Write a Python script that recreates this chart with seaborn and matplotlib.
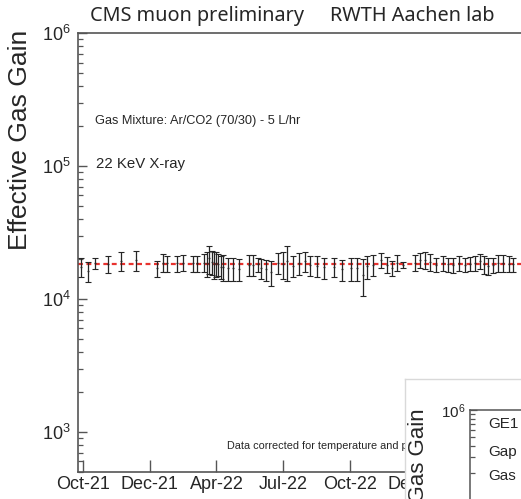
import numpy as np
import pandas as pd
import matplotlib
matplotlib.use("Agg")
import matplotlib.pyplot as plt
import seaborn as sns
from matplotlib.ticker import LogLocator, NullFormatter, FixedLocator

# Measurement time, in units of the labelled date ticks
time_pos = [-0.03, 0.07, 0.18, 0.37, 0.57, 0.79, 1.11, 1.20, 1.26, 1.41, 1.50, 1.65,
            1.71, 1.81, 1.86, 1.89, 1.93, 1.96, 1.99, 2.02, 2.07, 2.10, 2.17, 2.25,
            2.34, 2.49, 2.55, 2.62, 2.67, 2.74, 2.82, 2.92, 3.00, 3.06, 3.15, 3.24,
            3.33, 3.40, 3.51, 3.61, 3.76, 3.88, 4.02, 4.11, 4.20, 4.26, 4.35, 4.47,
            4.56, 4.63, 4.71, 4.80, 4.98, 5.05, 5.13, 5.20, 5.29, 5.40, 5.47, 5.55,
            5.64, 5.73, 5.80, 5.88, 5.95, 6.01, 6.07, 6.15, 6.22, 6.30, 6.39, 6.45]

# Effective gas gain and its uncertainty
gain = [17400, 16200, 18500, 18300, 19400, 19500, 17000, 18800, 18500, 18500, 18800, 18500,
        18500, 18800, 18600, 20200, 19000, 18300, 18500, 18300, 17500, 17500, 17100, 17000,
        16800, 18100, 18100, 18200, 17000, 16700, 15900, 18700, 18300, 19300, 17800, 18600,
        19200, 18000, 17800, 17300, 17400, 16700, 17000, 17100, 15200, 17600, 18100, 19500,
        18100, 17100, 18800, 18000, 18800, 19500, 19600, 19000, 18100, 18600, 18200, 17900,
        18700, 18100, 18400, 18600, 19200, 18200, 17800, 17900, 18600, 18600, 18400, 18200]
gain_err = [2800, 2800, 1700, 2700, 3100, 3300, 2400, 2800, 2600, 2500, 2500, 2500,
            2500, 2900, 4000, 4800, 3900, 4200, 3900, 3400, 3400, 3800, 3400, 3300,
            3100, 3200, 3200, 2300, 2900, 3000, 3400, 3300, 4200, 5700, 3200, 3500,
            3300, 3100, 3200, 3200, 2800, 3000, 3300, 3400, 4700, 3500, 3200, 2500,
            2500, 2200, 2500, 900, 2500, 2500, 2800, 2700, 2100, 2300, 2300, 2300,
            2400, 2200, 2200, 2300, 2500, 2800, 2700, 2300, 2700, 2700, 2500, 2300]

mean_gain = 18200

date_ticks = [0, 1, 2, 3, 4, 5]
date_labels = ["Oct-21", "Dec-21", "Apr-22", "Jul-22", "Oct-22", "Dec-22"]

df = pd.DataFrame({"t": time_pos, "gain": gain, "err": gain_err})

sns.set_style("ticks")
plt.rcParams["font.family"] = ["Liberation Sans", "DejaVu Sans"]
plt.rcParams["mathtext.fontset"] = "custom"
plt.rcParams["mathtext.rm"] = "Liberation Sans"
plt.rcParams["mathtext.it"] = "Liberation Sans:italic"

W, H = 521, 499
fig = plt.figure(figsize=(W / 100, H / 100), dpi=100)


def box(x0, y0, x1, y1):
    # pixel box (top-left origin) -> figure fraction rectangle
    return [x0 / W, 1 - y1 / H, (x1 - x0) / W, (y1 - y0) / H]


frame_col = "#555555"

ax = fig.add_axes(box(78, 33, 550, 472))
ax.set_yscale("log")
ax.set_ylim(500, 1e6)
ax.set_xlim(-0.075, 7.0)

ax.axhline(mean_gain, color="#e8322e", lw=1.6, ls=(0, (2.2, 1.6)), zorder=2)
ax.errorbar(df["t"], df["gain"], yerr=df["err"], fmt="none", ecolor="#262626",
            elinewidth=0.9, capsize=2.2, capthick=0.8, zorder=3)
sns.scatterplot(data=df, x="t", y="gain", ax=ax, s=2, color="#262626",
                linewidth=0, zorder=4, legend=False)

ax.set_xlabel("")
ax.set_ylabel("")
ax.xaxis.set_major_locator(FixedLocator(date_ticks))
ax.set_xticklabels(date_labels)
ax.yaxis.set_major_locator(LogLocator(base=10, numticks=10))
ax.yaxis.set_minor_locator(LogLocator(base=10, subs=np.arange(2, 10), numticks=20))
ax.yaxis.set_minor_formatter(NullFormatter())

ax.tick_params(axis="x", which="major", direction="in", length=9, width=1.0,
               color=frame_col, labelsize=13, pad=3)
ax.tick_params(axis="y", which="major", direction="in", length=6.5, width=1.0,
               color=frame_col, labelsize=13, pad=5)
ax.tick_params(axis="y", which="minor", direction="in", length=3.8, width=0.9,
               color=frame_col)
for s in ax.spines.values():
    s.set_color(frame_col)
    s.set_linewidth(1.2)

ax.text(95 / W, 1 - 124 / H, "Gas Mixture: Ar/CO2 (70/30) - 5 L/hr",
        transform=fig.transFigure, fontsize=9.2, va="baseline", ha="left")
ax.text(96 / W, 1 - 168 / H, "22 KeV X-ray",
        transform=fig.transFigure, fontsize=10.8, va="baseline", ha="left")
ax.text(227 / W, 1 - 449 / H, "Data corrected for temperature and pressure",
        transform=fig.transFigure, fontsize=7.8, va="baseline", ha="left")

fig.text(20 / W, 1 - 140 / H, "Effective Gas Gain", rotation=90,
         ha="center", va="center", fontsize=19)

title_font = ["Noto Sans", "DejaVu Sans"]
fig.text(90 / W, 1 - 21 / H, "CMS muon preliminary", family=title_font,
         fontsize=14.3, ha="left", va="baseline")
fig.text(330 / W, 1 - 21 / H, "RWTH Aachen lab", family=title_font,
         fontsize=14.3, ha="left", va="baseline")

# Neighbouring panel overlapping the lower right corner
panel = fig.add_axes(box(405, 379, 560, 540))
panel.set_facecolor("white")
panel.set_xticks([])
panel.set_yticks([])
for s in panel.spines.values():
    s.set_color("#d9d9d9")
    s.set_linewidth(1.0)

ax2 = fig.add_axes(box(470, 410, 600, 590))
ax2.set_yscale("log")
ax2.set_ylim(1e4, 1e6)
ax2.set_xlim(0, 1)
ax2.set_xticks([])
ax2.yaxis.set_major_locator(FixedLocator([1e6]))
ax2.yaxis.set_minor_locator(LogLocator(base=10, subs=np.arange(2, 10), numticks=20))
ax2.yaxis.set_minor_formatter(NullFormatter())
ax2.tick_params(axis="y", which="major", direction="in", length=5, width=0.9,
                color=frame_col, labelsize=11, pad=3)
ax2.tick_params(axis="y", which="minor", direction="in", length=3.5, width=0.9,
                color=frame_col)
for s in ax2.spines.values():
    s.set_color(frame_col)
    s.set_linewidth(1.1)
for txt, yp in [("GE1", 428), ("Gap", 456), ("Gas", 480)]:
    fig.text(488 / W, 1 - yp / H, txt, fontsize=11, ha="left", va="baseline")
fig.text(418 / W, 1 - 408 / H, "Effective Gas Gain", rotation=90,
         ha="center", va="top", fontsize=16)

fig.savefig("out.png", dpi=100)
